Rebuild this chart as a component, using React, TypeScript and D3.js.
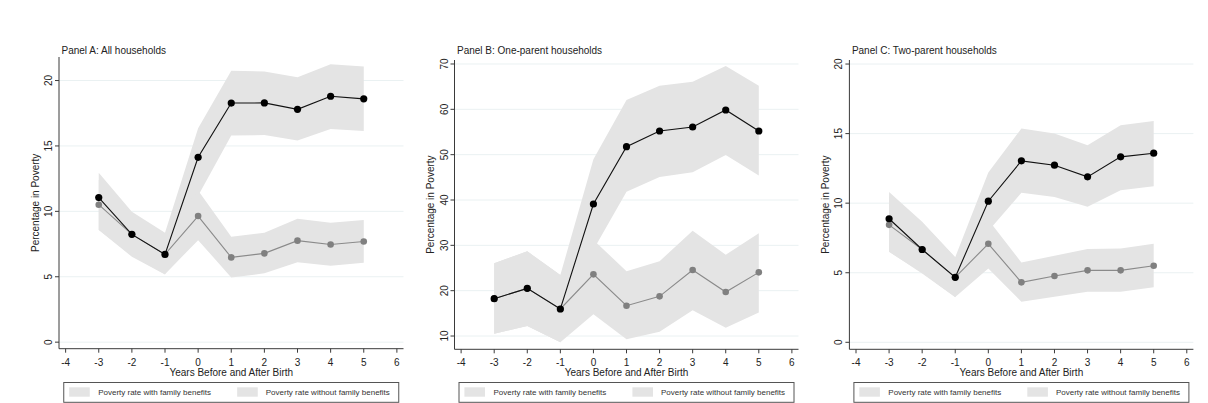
import React from "react";
import * as d3 from "d3";

const years = [-3, -2, -1, 0, 1, 2, 3, 4, 5];
const xTicks = [-4, -3, -2, -1, 0, 1, 2, 3, 4, 5, 6];

// Panel A: All households
const aWithout = [11.05, 8.24, 6.71, 14.13, 18.28, 18.29, 17.8, 18.8, 18.6];
const aWithoutHi = [12.96, 9.97, 8.37, 16.35, 20.74, 20.69, 20.26, 21.25, 21.07];
const aWithoutLo = [8.57, 6.53, 5.18, 11.2, 15.79, 15.84, 15.41, 16.3, 16.15];
const aWith = [10.51, 8.24, 6.71, 9.64, 6.48, 6.79, 7.76, 7.47, 7.7];
const aWithHi = [12.4, 9.9, 8.3, 11.6, 8.06, 8.37, 9.44, 9.13, 9.34];
const aWithLo = [8.6, 6.6, 5.2, 7.8, 4.95, 5.26, 6.1, 5.84, 6.07];
const aYTicks = [0, 5, 10, 15, 20];

// Panel B: One-parent households
const bWithout = [18.24, 20.51, 15.96, 39.12, 51.76, 55.22, 56.1, 59.85, 55.22];
const bWithoutHi = [26.03, 28.68, 23.46, 48.97, 62.06, 65.2, 66.1, 69.56, 65.2];
const bWithoutLo = [10.51, 12.2, 8.6, 29.0, 41.84, 45.1, 46.1, 49.9, 45.4];
const bWith = [18.24, 20.51, 15.96, 23.6, 16.69, 18.75, 24.56, 19.7, 24.04];
const bWithHi = [26.03, 28.68, 23.46, 31.2, 24.3, 26.5, 33.2, 27.9, 32.65];
const bWithLo = [10.51, 12.2, 8.6, 14.78, 9.3, 10.96, 15.7, 11.8, 15.2];
const bYTicks = [10, 20, 30, 40, 50, 60, 70];

// Panel C: Two-parent households
const cWithout = [8.88, 6.67, 4.67, 10.14, 13.04, 12.73, 11.89, 13.33, 13.59];
const cWithoutHi = [10.81, 8.66, 6.12, 12.2, 15.36, 15.0, 14.16, 15.6, 15.91];
const cWithoutLo = [6.51, 4.95, 3.23, 8.0, 10.74, 10.45, 9.74, 10.93, 11.22];
const cWith = [8.44, 6.67, 4.67, 7.08, 4.31, 4.76, 5.17, 5.17, 5.5];
const cWithHi = [10.5, 8.6, 6.1, 8.8, 5.74, 6.22, 6.7, 6.75, 7.08];
const cWithLo = [6.5, 5.0, 3.25, 5.31, 2.92, 3.28, 3.64, 3.64, 3.95];
const cYTicks = [0, 5, 10, 15, 20];

const titles = [
  "Panel A: All households",
  "Panel B: One-parent households",
  "Panel C: Two-parent households",
];
const legendLabels = [
  "Poverty rate with family benefits",
  "Poverty rate without family benefits",
];
const xTitle = "Years Before and After Birth";
const yTitle = "Percentage in Poverty";

const FONT = "'Liberation Sans', Arial, Helvetica, sans-serif";
const BAND = "#e4e4e4";
const GRID = "#eaf1f2";
const AXIS = "#3a3a3a";

type PanelDef = {
  title: string;
  left: number;
  right: number;
  top: number;
  bottom: number;
  yDomain: [number, number];
  yTicks: number[];
  without: number[];
  withoutHi: number[];
  withoutLo: number[];
  withB: number[];
  withHi: number[];
  withLo: number[];
};

const panels: PanelDef[] = [
  {
    title: titles[0], left: 59, right: 403.5, top: 57, bottom: 348.7,
    yDomain: [-0.5, 21.8], yTicks: aYTicks,
    without: aWithout, withoutHi: aWithoutHi, withoutLo: aWithoutLo,
    withB: aWith, withHi: aWithHi, withLo: aWithLo,
  },
  {
    title: titles[1], left: 454.5, right: 798.5, top: 60, bottom: 349.3,
    yDomain: [7.07, 70.88], yTicks: bYTicks,
    without: bWithout, withoutHi: bWithoutHi, withoutLo: bWithoutLo,
    withB: bWith, withHi: bWithHi, withLo: bWithLo,
  },
  {
    title: titles[2], left: 849.4, right: 1193.4, top: 60, bottom: 349.3,
    yDomain: [-0.503, 20.29], yTicks: cYTicks,
    without: cWithout, withoutHi: cWithoutHi, withoutLo: cWithoutLo,
    withB: cWith, withHi: cWithHi, withLo: cWithLo,
  },
];

function Panel({ p }: { p: PanelDef }) {
  const x = d3.scaleLinear().domain([-4.2, 6.2]).range([p.left, p.right]);
  const y = d3.scaleLinear().domain(p.yDomain).range([p.bottom, p.top]);
  const area = (hi: number[], lo: number[]) =>
    d3
      .area<number>()
      .x((_, i) => x(years[i]))
      .y0((_, i) => y(lo[i]))
      .y1((_, i) => y(hi[i]))(years) || "";
  const line = (vals: number[]) =>
    d3
      .line<number>()
      .x((_, i) => x(years[i]))
      .y((_, i) => y(vals[i]))(years) || "";
  const cx = (p.left + p.right) / 2;
  const cy = (p.top + p.bottom) / 2;
  const legW = 335;
  const legL = cx - legW / 2;
  return (
    <g>
      {/* gridlines */}
      {p.yTicks.map((t) => (
        <line key={"g" + t} x1={p.left} x2={p.right} y1={y(t)} y2={y(t)} stroke={GRID} strokeWidth={1} />
      ))}
      {/* bands */}
      <path d={area(p.withoutHi, p.withoutLo)} fill={BAND} />
      <path d={area(p.withHi, p.withLo)} fill={BAND} />
      {/* grey series */}
      <path d={line(p.withB)} fill="none" stroke="#8a8a8a" strokeWidth={1.1} />
      {years.map((yr, i) => (
        <circle key={"gc" + yr} cx={x(yr)} cy={y(p.withB[i])} r={3.3} fill="#808080" />
      ))}
      {/* black series */}
      <path d={line(p.without)} fill="none" stroke="#111" strokeWidth={1.1} />
      {years.map((yr, i) => (
        <circle key={"bc" + yr} cx={x(yr)} cy={y(p.without[i])} r={3.6} fill="#000" />
      ))}
      {/* axes */}
      <line x1={p.left} x2={p.left} y1={p.top} y2={p.bottom} stroke={AXIS} strokeWidth={1} />
      <line x1={p.left} x2={p.right} y1={p.bottom} y2={p.bottom} stroke={AXIS} strokeWidth={1} />
      {p.yTicks.map((t) => (
        <g key={"yt" + t}>
          <line x1={p.left - 4} x2={p.left} y1={y(t)} y2={y(t)} stroke={AXIS} strokeWidth={1} />
          <text
            transform={`translate(${p.left - 7},${y(t)}) rotate(-90)`}
            textAnchor="middle"
            fontFamily={FONT}
            fontSize={10}
            fill="#222"
          >
            {t}
          </text>
        </g>
      ))}
      {xTicks.map((t) => (
        <g key={"xt" + t}>
          <line x1={x(t)} x2={x(t)} y1={p.bottom} y2={p.bottom + 4} stroke={AXIS} strokeWidth={1} />
          <text x={x(t)} y={p.bottom + 17} textAnchor="middle" fontFamily={FONT} fontSize={10} fill="#222">
            {t}
          </text>
        </g>
      ))}
      <text x={cx} y={376.3} textAnchor="middle" fontFamily={FONT} fontSize={10} fill="#222">
        {xTitle}
      </text>
      <text
        transform={`translate(${p.left - 20.5},${cy}) rotate(-90)`}
        textAnchor="middle"
        fontFamily={FONT}
        fontSize={10}
        fill="#222"
      >
        {yTitle}
      </text>
      <text x={p.left + 2.5} y={54.3} fontFamily={FONT} fontSize={10} fill="#222">
        {p.title}
      </text>
      {/* legend */}
      <rect x={legL} y={382.5} width={legW} height={19.8} fill="#fff" stroke="#555" strokeWidth={1} />
      <rect x={legL + 5.4} y={387.3} width={20.6} height={9.4} fill={BAND} />
      <text x={legL + 34.4} y={395.3} fontFamily={FONT} fontSize={8} fill="#333">
        {legendLabels[0]}
      </text>
      <rect x={legL + 173.4} y={387.3} width={20.6} height={9.4} fill={BAND} />
      <text x={legL + 202} y={395.3} fontFamily={FONT} fontSize={8} fill="#333">
        {legendLabels[1]}
      </text>
    </g>
  );
}

export default function App() {
  return (
    <svg
      width={1208}
      height={403}
      style={{ position: "absolute", left: 0, top: 0, background: "#fff" }}
    >
      <rect x={0} y={0} width={1208} height={403} fill="#fff" />
      {panels.map((p) => (
        <Panel key={p.title} p={p} />
      ))}
    </svg>
  );
}
